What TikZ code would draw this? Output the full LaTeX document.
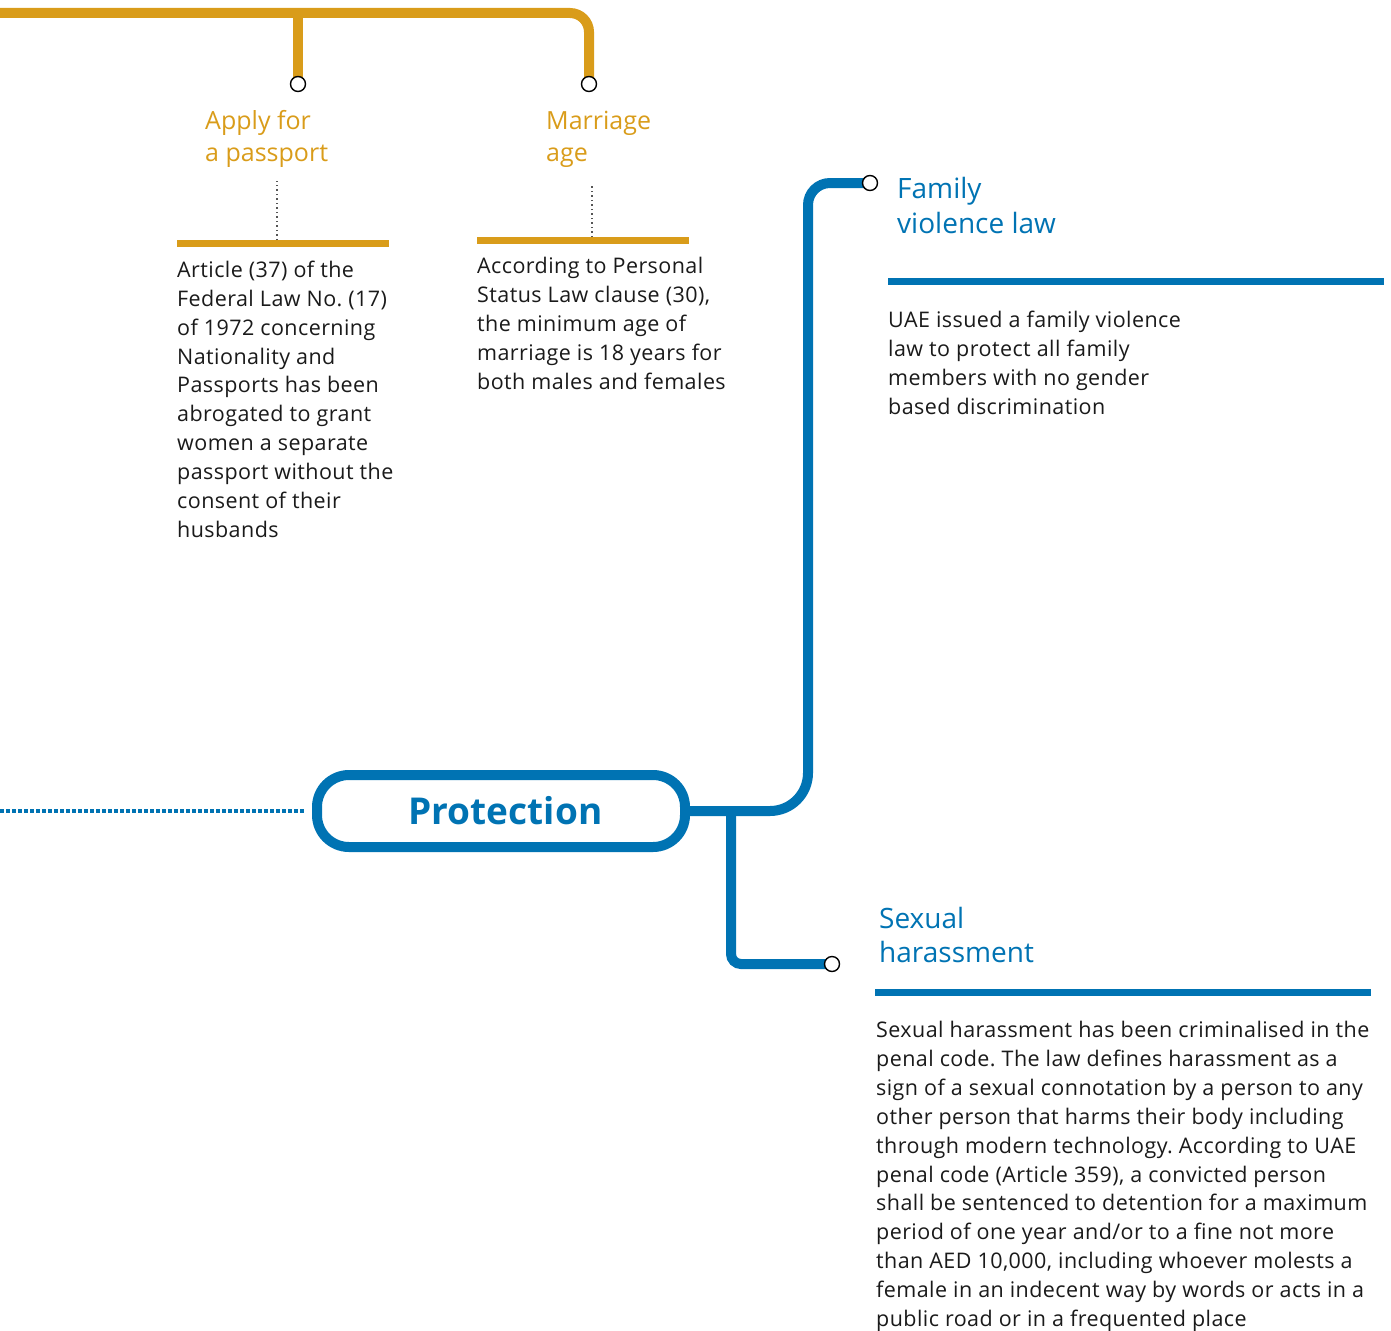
\documentclass[tikz,border=0pt]{standalone}
\usepackage{fontspec}
\setmainfont{Open Sans}
\newfontfamily\bodyfont[LetterSpace=2.0]{Open Sans}
\usetikzlibrary{calc}
\frenchspacing
\definecolor{gold}{HTML}{D99C1A}
\definecolor{pblue}{HTML}{0073B3}
\definecolor{txt}{HTML}{1A1A1A}
\definecolor{dotgray}{HTML}{555555}
\pgfdeclarelayer{bg}
\pgfsetlayers{bg,main}
\tikzset{
  goldline/.style={draw=gold, line width=10pt},
  blueline/.style={draw=pblue, line width=10pt},
  endpt/.style={circle, draw=black, fill=white, line width=1.4pt, minimum size=15pt, inner sep=0pt},
  barbox/.style={inner sep=0pt, outer sep=0pt, anchor=north west, minimum height=7pt},
  goldhead/.style={anchor=base west, inner sep=0pt, align=left, text=gold, font=\fontsize{25}{32}\selectfont},
  bluehead/.style={anchor=base west, inner sep=0pt, align=left, text=pblue, font=\fontsize{28}{34.5}\selectfont},
  bodytext/.style={anchor=base west, inner sep=0pt, align=left, text=txt, font=\bodyfont\fontsize{21.5}{28.9}\selectfont\frenchspacing},
  dotline/.style={draw=dotgray, line width=1.3pt, dash pattern=on 1.5pt off 3pt},
  protbox/.style={draw=pblue, line width=10pt, rounded corners=32pt, minimum width=368pt, minimum height=72pt, inner sep=0pt, text=pblue, font=\fontsize{37}{40}\selectfont\bfseries},
}
\begin{document}
\begin{tikzpicture}[x=1pt,y=-1pt]
\useasboundingbox (0,0) rectangle (1391,1330);

% ---------- gold part ----------
\coordinate (gL) at (0,13);
\node[endpt] (c1) at (298,84) {};
\node[endpt] (c2) at (589,84) {};
\begin{pgfonlayer}{bg}
\draw[goldline, rounded corners=19pt] (gL) -| (c2.center);
\draw[goldline] (c1.center |- gL) -- (c1.center);
\end{pgfonlayer}

% base anchor = baseline of the last line
\node[goldhead] (h1) at (205,161.3) {Apply for\\a passport};
\node[goldhead] (h2) at (546,161.3) {Marriage\\age};

\node[barbox, fill=gold, minimum width=212pt] (bar1) at (177,240) {};
\node[barbox, fill=gold, minimum width=212pt] (bar2) at (477,237) {};
\draw[dotline] ([xshift=100pt]bar1.north west) -- ++(0,-59);
\draw[dotline] ([xshift=115pt]bar2.north west) -- ++(0,-52);

\node[bodytext] (t1) at (177,537.4) {Article (37) of the\\Federal Law No. (17)\\of 1972 concerning\\Nationality and\\Passports has been\\abrogated to grant\\women a separate\\passport without the\\consent of their\\husbands};
\node[bodytext] (t2) at (477,389.2) {According to Personal\\Status Law clause (30),\\the minimum age of\\marriage is 18 years for\\both males and females};

% ---------- blue part ----------
\node[protbox] (prot) at (501,811) {\hspace*{9pt}Protection};
\coordinate (dl) at (0,811);
\draw[pblue, line width=4pt, dash pattern=on 3.5pt off 2.5pt, shorten >=7pt] (dl) -- (prot.west);

\node[endpt] (c3) at (870,183) {};
\node[endpt] (c4) at (832,964) {};
\coordinate (vmid) at (808,500);
\coordinate (br) at (731,811);
\begin{pgfonlayer}{bg}
\draw[blueline, rounded corners=38pt] (prot.east) -| (vmid);
\draw[blueline, rounded corners=22pt] (vmid) |- (c3.center);
\draw[blueline, rounded corners=10pt] (br) |- (c4.center);
\end{pgfonlayer}

\node[bluehead] (h3) at (897,233) {Family\\violence law};
\node[barbox, fill=pblue, minimum width=496pt] (bar3) at (888,278) {};
\node[bodytext] (t3) at (888,414.2) {UAE issued a family violence\\law to protect all family\\members with no gender\\based discrimination};

\node[bluehead] (h4) at (879,962.5) {Sexual\\harassment};
\node[barbox, fill=pblue, minimum width=496pt] (bar4) at (875,989) {};
\node[bodytext] (t4) at (876,1326.5) {Sexual harassment has been criminalised in the\\penal code. The law defines harassment as a\\sign of a sexual connotation by a person to any\\other person that harms their body including\\through modern technology. According to UAE\\penal code (Article 359), a convicted person\\shall be sentenced to detention for a maximum\\period of one year and/or to a fine not more\\than AED 10,000, including whoever molests a\\female in an indecent way by words or acts in a\\public road or in a frequented place};
\end{tikzpicture}
\end{document}
